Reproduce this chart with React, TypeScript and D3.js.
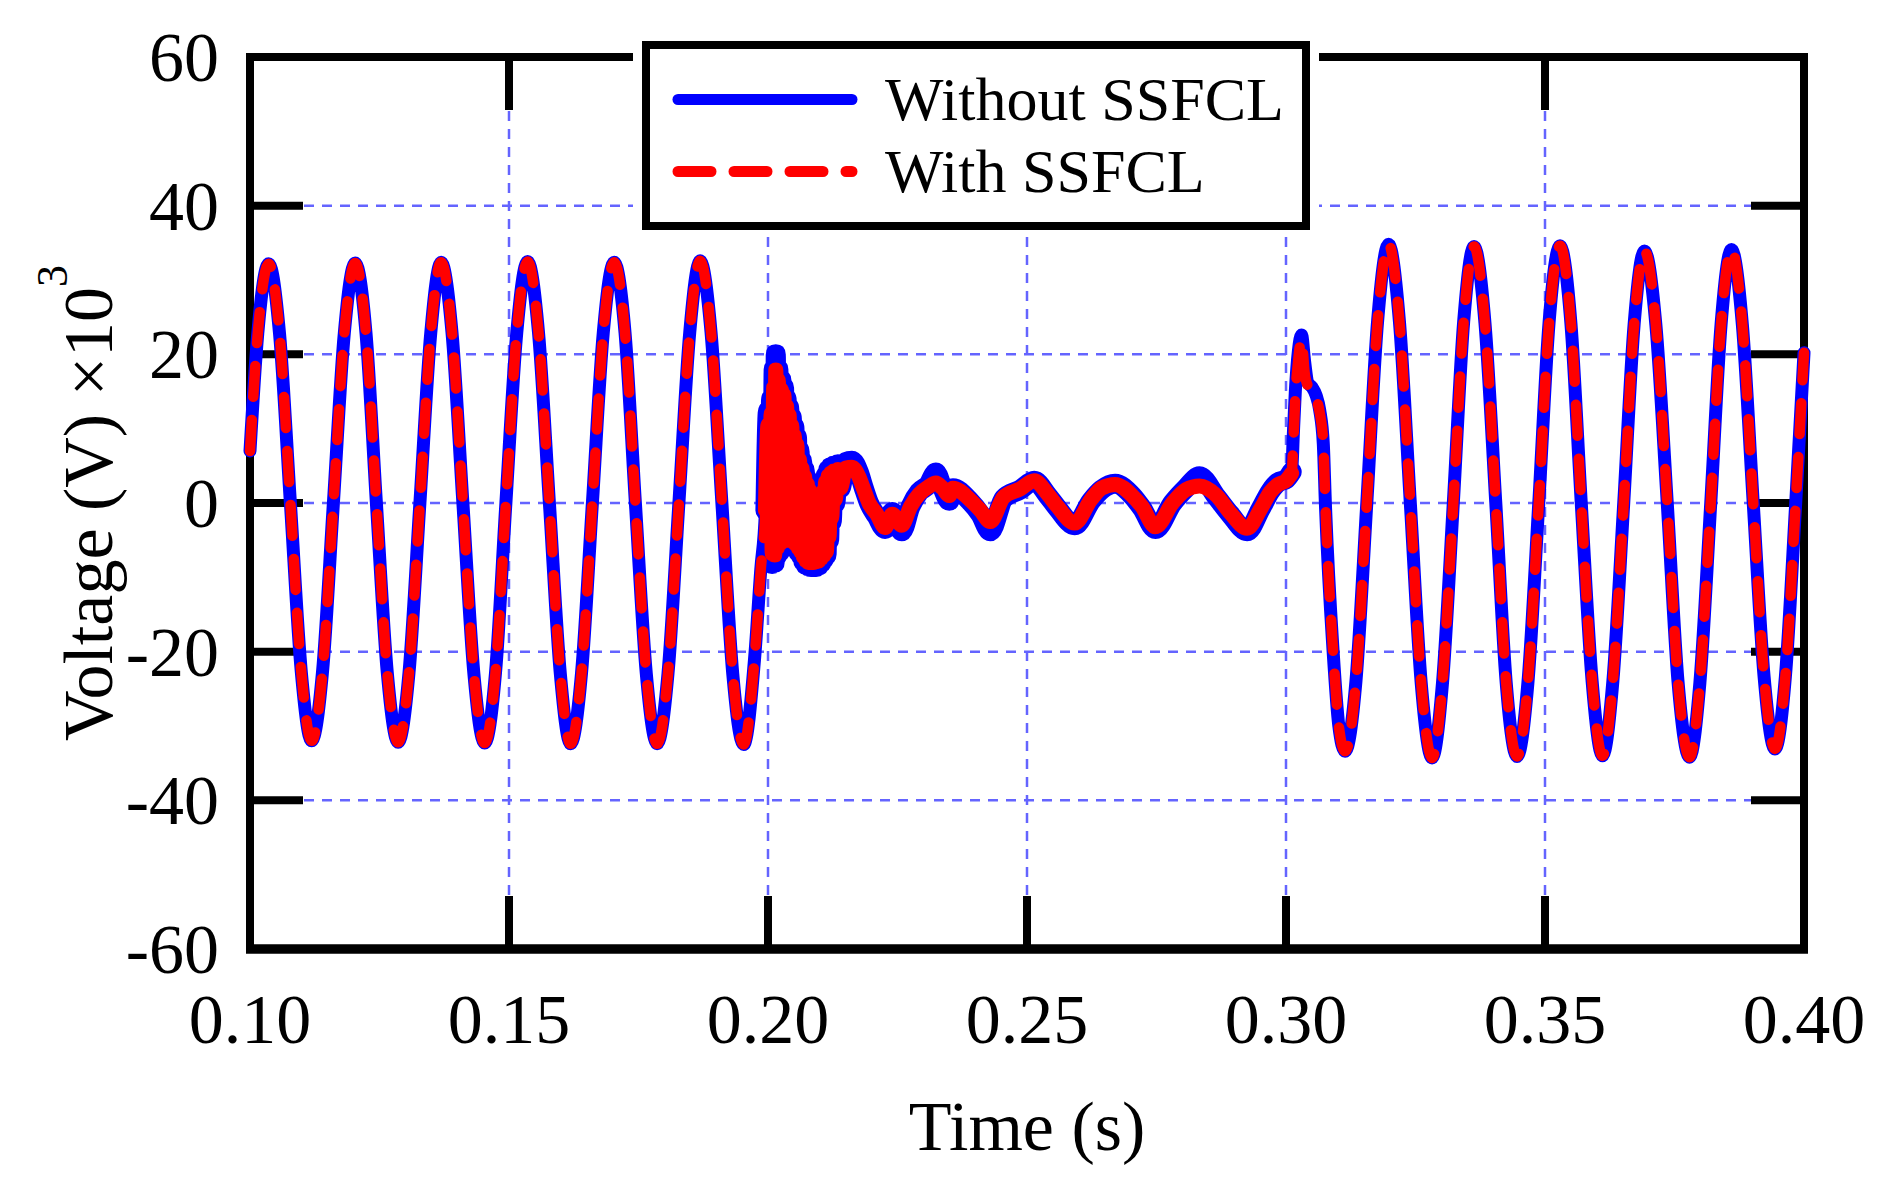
import { useEffect, useRef } from 'react'
import * as d3 from 'd3'

// Time (s) and voltage (kV), split by stage.
// Before the fault both runs sit on top of each other.
const preFaultTime = [
  0.1000, 0.1015, 0.1036, 0.1057, 0.1078, 0.1099, 0.1119, 0.1140, 0.1161, 0.1182,
  0.1203, 0.1224, 0.1244, 0.1265, 0.1286, 0.1307, 0.1328, 0.1349, 0.1369, 0.1390,
  0.1411, 0.1432, 0.1453, 0.1474, 0.1494, 0.1515, 0.1536, 0.1557, 0.1578, 0.1599,
  0.1619, 0.1640, 0.1661, 0.1682, 0.1703, 0.1724, 0.1744, 0.1765, 0.1786, 0.1807,
  0.1828, 0.1849, 0.1869, 0.1890, 0.1911, 0.1932, 0.1953, 0.1974, 0.1986,
]
const preFaultKV = [
  7.0, 22.8, 32.2, 22.8, 0, -22.7, -32.0, -22.7, 0, 22.8,
  32.3, 22.8, 0, -22.8, -32.2, -22.8, 0, 22.9, 32.4, 22.9,
  0, -22.8, -32.3, -22.8, 0, 22.9, 32.5, 22.9, 0, -22.9,
  -32.4, -22.9, 0, 22.9, 32.4, 22.9, 0, -22.9, -32.4, -22.9,
  0, 23.0, 32.6, 23.0, 0, -23.0, -32.5, -21.0, -9.0,
]

// Fault period: ringing right after 0.20 s, then the low sag until clearing at ~0.30 s
const faultTime = [
  0.1995, 0.2000, 0.2003, 0.2006, 0.2008, 0.2011, 0.2013, 0.2015, 0.2018, 0.2020,
  0.2023, 0.2026, 0.2028, 0.2031, 0.2033, 0.2036, 0.2038, 0.2041, 0.2043, 0.2046,
  0.2048, 0.2051, 0.2053, 0.2056, 0.2058, 0.2061, 0.2063, 0.2066, 0.2068, 0.2071,
  0.2073, 0.2076, 0.2078, 0.2081, 0.2083, 0.2086, 0.2088, 0.2091, 0.2093, 0.2096,
  0.2098, 0.2101, 0.2103, 0.2106, 0.2108, 0.2111, 0.2113, 0.2116, 0.2118, 0.2121,
  0.2123, 0.2127, 0.2130, 0.2135, 0.2140, 0.2150, 0.2162, 0.2175, 0.2185, 0.2195,
  0.2210, 0.2226, 0.2240, 0.2258, 0.2275, 0.2292, 0.2310, 0.2324, 0.2337, 0.2350,
  0.2357, 0.2389, 0.2410, 0.2429, 0.2455, 0.2487, 0.2514, 0.2540, 0.2559, 0.2592,
  0.2624, 0.2644, 0.2670, 0.2703, 0.2722, 0.2748, 0.2781, 0.2807, 0.2833, 0.2866,
  0.2892, 0.2925, 0.2951, 0.2970, 0.2985, 0.3000, 0.3011, 0.3014, 0.3018, 0.3024,
  0.3030, 0.3036, 0.3042, 0.3050, 0.3058, 0.3065, 0.3072,
]
const faultWithoutKV = [
  -1, 12.4, -4, 14, -8.2, 18, -8, 20, -7, 18,
  -6.5, 16.5, -5.8, 15.5, -5.7, 14, -5.7, 12.8, -5.7, 11.5,
  -5.8, 10.2, -6, 8.8, -6.5, 7, -7, 5.6, -7.8, 4.4,
  -8.3, 3.2, -8.5, 2.2, -8.6, 1.4, -8.6, 0.8, -8.6, 0.5,
  -8.4, 1.0, -8, 2.2, -7.5, 3.6, -7, 4.4, -5, 4.8,
  -2.5, 5.0, 0, 5.2, 2.0, 5.5, 5.7, 4.2, 2.0, 0,
  -1.8, -3.5, -1.2, -3.8, -0.5, 1.5, 2.5, 4.1, 2.0, 0.3,
  2.0, 0.3, -1.5, -3.8, 0.6, 1.8, 3.0, 1.0, -0.7, -3.0,
  0.3, 1.8, 2.6, 1.0, -0.7, -3.5, 0, 2.0, 3.6, 0.8,
  -1.5, -3.8, -0.8, 1.6, 2.8, 3.2, 4.2, 9, 15, 20.5,
  22.6, 19, 16.2, 15.6, 14.5, 12.5, 8,
]
const faultWithKV = [
  -1, 10.5, -3.5, 12, -6.8, 15.5, -7, 17.9, -6, 16.5,
  -5.5, 15.2, -5.2, 14.5, -5, 13, -5, 11.8, -5, 10.4,
  -5.2, 9.0, -5.5, 7.8, -6, 5.8, -6.5, 4.6, -7.2, 3.5,
  -7.7, 2.5, -8, 1.6, -8, 0.8, -8, 0.2, -7.9, 0,
  -7.8, 0.4, -7.4, 1.5, -7, 2.8, -6.5, 3.6, -4.5, 4.0,
  -2, 4.3, 0.5, 4.5, 2.0, 4.7, 4.8, 3.6, 1.8, 0,
  -1.5, -3.3, -1.5, -3.0, -0.5, 1.2, 2.2, 2.7, 2.0, 1.0,
  2.0, 0.5, -1.0, -2.5, 0.8, 1.9, 3.0, 1.2, -0.5, -2.7,
  0.5, 2.0, 2.5, 1.0, -0.5, -3.2, 0, 1.8, 2.3, 1.0,
  -1.3, -3.4, -0.8, 1.5, 2.5, 3.0, 4.0, 8, 14.3, 19.5,
  22.0, 17.5, 15.8, 15.2, 14.0, 12.2, 8,
]

// After clearing the two runs coincide again
const recoveryTime = [
  0.3076, 0.3091, 0.3102, 0.3114, 0.3135, 0.3156, 0.3177, 0.3198, 0.3219, 0.3240,
  0.3261, 0.3282, 0.3302, 0.3323, 0.3343, 0.3363, 0.3384, 0.3405, 0.3425, 0.3446,
  0.3467, 0.3488, 0.3508, 0.3529, 0.3550, 0.3570, 0.3591, 0.3611, 0.3631, 0.3652,
  0.3672, 0.3692, 0.3714, 0.3736, 0.3757, 0.3779, 0.3799, 0.3820, 0.3840, 0.3860,
  0.3881, 0.3902, 0.3923, 0.3944, 0.3964, 0.3984, 0.4000,
]
const recoveryKV = [
  0, -20, -30, -33.4, -24.0, 0, 24.6, 34.8, 24.4, 0,
  -24.2, -34.3, -24.3, 0, 24.4, 34.5, 24.3, 0, -24.1, -34.1,
  -24.2, 0, 24.4, 34.6, 24.2, 0, -24.0, -34.0, -24.0, 0,
  24.0, 33.9, 24.0, 0, -24.2, -34.2, -24.2, 0, 24.1, 34.1,
  24.0, 0, -23.4, -33.1, -23.4, 0, 20.2,
]

const xTicks = [0.1, 0.15, 0.2, 0.25, 0.3, 0.35, 0.4]
const yTicks = [-60, -40, -20, 0, 20, 40, 60]
const seriesNames = ['Without SSFCL', 'With SSFCL']

const W = 1899
const H = 1193
const M = { top: 57, right: 95, bottom: 244, left: 250 }
const FONT = '"Liberation Serif", "Times New Roman", serif'
const BLUE = '#0000ff'
const RED = '#ff0000'
const GRID = '#6464ff'
const TICK_LEN = 53

interface Pt {
  t: number
  without: number
  with: number
}

export default function App() {
  const svgRef = useRef<SVGSVGElement>(null)

  useEffect(() => {
    if (!svgRef.current) return
    const svg = d3.select(svgRef.current)
    svg.selectAll('*').remove()

    const x = d3.scaleLinear().domain([0.1, 0.4]).range([M.left, W - M.right])
    const y = d3.scaleLinear().domain([-60, 60]).range([H - M.bottom, M.top])
    const [xl, xr] = x.range()
    const [yb, yt] = y.range()

    svg.append('rect').attr('width', W).attr('height', H).attr('fill', '#fff')

    // dashed grid
    const grid = svg.append('g')
      .attr('stroke', GRID)
      .attr('stroke-width', 2.5)
      .attr('stroke-dasharray', '10 8')
    yTicks.slice(1, -1).forEach(v => {
      grid.append('line').attr('x1', xl).attr('x2', xr).attr('y1', y(v)).attr('y2', y(v))
    })
    xTicks.slice(1, -1).forEach(t => {
      grid.append('line').attr('x1', x(t)).attr('x2', x(t)).attr('y1', yt).attr('y2', yb)
    })

    // inward ticks on all four sides
    const ticks = svg.append('g').attr('stroke', '#000').attr('stroke-width', 8)
    xTicks.slice(1, -1).forEach(t => {
      ticks.append('line').attr('x1', x(t)).attr('x2', x(t)).attr('y1', yt).attr('y2', yt + TICK_LEN)
      ticks.append('line').attr('x1', x(t)).attr('x2', x(t)).attr('y1', yb - TICK_LEN).attr('y2', yb)
    })
    yTicks.slice(1, -1).forEach(v => {
      ticks.append('line').attr('x1', xl).attr('x2', xl + TICK_LEN).attr('y1', y(v)).attr('y2', y(v))
      ticks.append('line').attr('x1', xr - TICK_LEN).attr('x2', xr).attr('y1', y(v)).attr('y2', y(v))
    })

    svg.append('rect')
      .attr('x', xl).attr('y', yt)
      .attr('width', xr - xl).attr('height', yb - yt)
      .attr('fill', 'none').attr('stroke', '#000').attr('stroke-width', 8)
    // bottom axis is drawn a touch heavier
    svg.append('line')
      .attr('x1', xl - 4).attr('x2', xr + 4).attr('y1', yb).attr('y2', yb)
      .attr('stroke', '#000').attr('stroke-width', 9.5)

    // tick labels
    svg.append('g')
      .attr('font-family', FONT).attr('font-size', 70).attr('text-anchor', 'middle')
      .selectAll('text').data(xTicks).join('text')
      .attr('x', d => x(d)).attr('y', 1043)
      .text(d => d.toFixed(2))
    svg.append('g')
      .attr('font-family', FONT).attr('font-size', 70).attr('text-anchor', 'end')
      .selectAll('text').data(yTicks).join('text')
      .attr('x', 219).attr('y', d => y(d) + 24)
      .text(d => String(d))

    // axis titles
    svg.append('text')
      .attr('x', (xl + xr) / 2).attr('y', 1150)
      .attr('font-family', FONT).attr('font-size', 70).attr('text-anchor', 'middle')
      .text('Time (s)')
    const yTitle = svg.append('text')
      .attr('transform', `translate(112,${(yt + yb) / 2}) rotate(-90)`)
      .attr('font-family', FONT).attr('font-size', 70).attr('text-anchor', 'middle')
    yTitle.append('tspan').text('Voltage (V) \u00d710')
    yTitle.append('tspan').attr('font-size', 44).attr('dy', -45).text('3')

    // traces
    const time = [...preFaultTime, ...faultTime, ...recoveryTime]
    const withoutKV = [...preFaultKV, ...faultWithoutKV, ...recoveryKV]
    const withKV = [...preFaultKV, ...faultWithKV, ...recoveryKV]
    const rows: Pt[] = time.map((t, i) => ({ t, without: withoutKV[i], with: withKV[i] }))
    // during the fault the noisy trace reads as a solid, thicker band
    const faultRows = rows.filter(d => d.t >= faultTime[0] && d.t <= 0.3011)

    const line = (key: 'without' | 'with') =>
      d3.line<Pt>().x(d => x(d.t)).y(d => y(d[key])).curve(d3.curveMonotoneX)

    const traces = svg.append('g')
      .attr('fill', 'none')
      .attr('stroke-linejoin', 'round')
      .attr('stroke-linecap', 'round')
    traces.append('path').attr('d', line('without')(rows)).attr('stroke', BLUE).attr('stroke-width', 13)
    traces.append('path').attr('d', line('without')(faultRows)).attr('stroke', BLUE).attr('stroke-width', 20)
    traces.append('path').attr('d', line('with')(rows))
      .attr('stroke', RED).attr('stroke-width', 10.5).attr('stroke-dasharray', '31 23')
    traces.append('path').attr('d', line('with')(faultRows)).attr('stroke', RED).attr('stroke-width', 15)

    // legend (white backing hides the top axis behind it)
    const legend = svg.append('g')
    legend.append('rect').attr('x', 633).attr('y', 28).attr('width', 686).attr('height', 209).attr('fill', '#fff')
    legend.append('rect')
      .attr('x', 646).attr('y', 45).attr('width', 660).attr('height', 181)
      .attr('fill', 'none').attr('stroke', '#000').attr('stroke-width', 8)
    const entries = [
      { name: seriesNames[0], color: BLUE, dash: null as string | null, y: 99.5 },
      { name: seriesNames[1], color: RED, dash: '33 23', y: 171.5 },
    ]
    entries.forEach(e => {
      legend.append('line')
        .attr('x1', 678).attr('x2', 852).attr('y1', e.y).attr('y2', e.y)
        .attr('stroke', e.color).attr('stroke-width', 11).attr('stroke-linecap', 'round')
        .attr('stroke-dasharray', e.dash)
      legend.append('text')
        .attr('x', 885).attr('y', e.y + 20)
        .attr('font-family', FONT).attr('font-size', 62)
        .text(e.name)
    })
  }, [])

  return (
    <svg
      ref={svgRef}
      width={W}
      height={H}
      style={{ position: 'absolute', left: 0, top: 0, display: 'block' }}
    />
  )
}
